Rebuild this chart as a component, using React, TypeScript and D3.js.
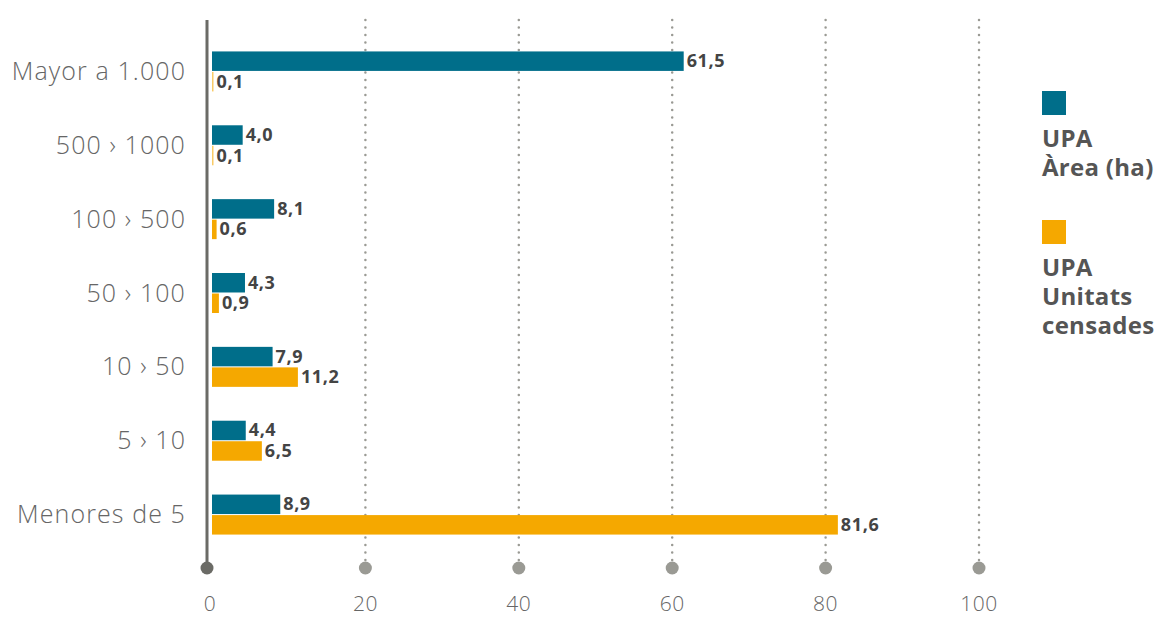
import { useEffect, useRef } from 'react'
import * as d3 from 'd3'

const categories = ['Mayor a 1.000', '500 › 1000', '100 › 500', '50 › 100', '10 › 50', '5 › 10', 'Menores de 5']
const areaValues = [61.5, 4.0, 8.1, 4.3, 7.9, 4.4, 8.9]
const unitValues = [0.1, 0.1, 0.6, 0.9, 11.2, 6.5, 81.6]
const ticks = [0, 20, 40, 60, 80, 100]
const seriesKeys = ['area', 'units']
const seriesLabels = [['UPA', 'Àrea (ha)'], ['UPA', 'Unitats', 'censades']]

const BLUE = '#006e8a'
const ORANGE = '#f5a800'
const fmt = (v: number) => v.toFixed(1).replace('.', ',')

export default function App() {
  const ref = useRef<SVGSVGElement>(null)

  useEffect(() => {
    const width = 1157
    const height = 618
    const svg = d3.select(ref.current)
    svg.selectAll('*').remove()

    const x = d3.scaleLinear().domain([0, 100]).range([212, 979])
    const y = d3.scaleBand().domain(categories).range([34, 551]).padding(0)
    const y1 = d3.scaleBand().domain(seriesKeys).range([-19.5, 20.5]).paddingInner(0.05)
    const color = d3.scaleOrdinal<string>().domain(seriesKeys).range([BLUE, ORANGE])
    const axisX = x(0) - 5
    const axisTop = 20
    const axisBottom = 568

    // dotted grid lines
    svg.append('g').selectAll('line').data(ticks.filter(t => t > 0)).enter().append('line')
      .attr('x1', d => x(d)).attr('x2', d => x(d))
      .attr('y1', axisTop).attr('y2', axisBottom)
      .attr('stroke', '#9a9a94').attr('stroke-width', 2.5)
      .attr('stroke-dasharray', '0 7.5').attr('stroke-linecap', 'round')

    // main axis
    svg.append('line')
      .attr('x1', axisX).attr('x2', axisX).attr('y1', axisTop).attr('y2', axisBottom)
      .attr('stroke', '#6b6b66').attr('stroke-width', 3)

    svg.append('g').selectAll('circle').data(ticks).enter().append('circle')
      .attr('cx', d => d === 0 ? axisX : x(d)).attr('cy', axisBottom).attr('r', 6.5)
      .attr('fill', d => d === 0 ? '#6b6b66' : '#9a9a94')

    svg.append('g').selectAll('text').data(ticks).enter().append('text')
      .attr('x', d => d === 0 ? axisX + 3 : x(d)).attr('y', 611)
      .attr('text-anchor', 'middle')
      .style('font-family', '"Open Sans", sans-serif').style('font-weight', 300)
      .style('font-size', '21px').attr('fill', '#666')
      .style('letter-spacing', '0.5px')
      .text(d => d)

    // category labels
    svg.append('g').selectAll('text').data(categories).enter().append('text')
      .attr('x', 186).attr('y', d => (y(d) ?? 0) + y.bandwidth() / 2 + 9)
      .attr('text-anchor', 'end')
      .style('font-family', '"Open Sans", sans-serif').style('font-weight', 300)
      .style('font-size', '25px').attr('fill', '#666')
      .style('letter-spacing', '1.1px')
      .text(d => d)

    const rows = categories.map((c, i) => ({ c, vals: [
      { key: 'area', value: areaValues[i] },
      { key: 'units', value: unitValues[i] },
    ] }))

    const g = svg.append('g').selectAll('g').data(rows).enter().append('g')
      .attr('transform', d => `translate(0,${(y(d.c) ?? 0) + y.bandwidth() / 2})`)

    const barW = (v: number) => Math.max(1.5, x(v) - x(0))

    g.selectAll('rect').data(d => d.vals).enter().append('rect')
      .attr('x', x(0))
      .attr('y', d => y1(d.key) ?? 0)
      .attr('width', d => barW(d.value))
      .attr('height', y1.bandwidth())
      .attr('fill', d => color(d.key))
      .attr('opacity', d => d.value < 0.5 ? 0.6 : 1)

    g.selectAll('text').data(d => d.vals).enter().append('text')
      .attr('x', d => x(0) + barW(d.value) + 3)
      .attr('y', d => (y1(d.key) ?? 0) + y1.bandwidth() / 2 + 6)
      .style('font-family', '"Open Sans", sans-serif').style('font-weight', 700)
      .style('font-size', '18px').attr('fill', '#444')
      .style('letter-spacing', '0.6px')
      .text(d => fmt(d.value))

    // legend
    const legend = svg.append('g')
    const legendY = [91, 220]
    seriesKeys.forEach((k, i) => {
      legend.append('rect').attr('x', 1042).attr('y', legendY[i]).attr('width', 24).attr('height', 24)
        .attr('fill', color(k))
      legend.selectAll(null).data(seriesLabels[i]).enter().append('text')
        .attr('x', 1042).attr('y', (d, j) => legendY[i] + 56 + j * 29)
        .style('font-family', '"Open Sans", sans-serif').style('font-weight', 700)
        .style('font-size', '24px').attr('fill', '#555')
        .style('letter-spacing', '0.3px')
        .text(d => d)
    })

    svg.attr('viewBox', `0 0 ${width} ${height}`)
  }, [])

  return <svg ref={ref} width={1157} height={618} style={{ display: 'block', position: 'absolute', left: 0, top: 0 }} />
}
